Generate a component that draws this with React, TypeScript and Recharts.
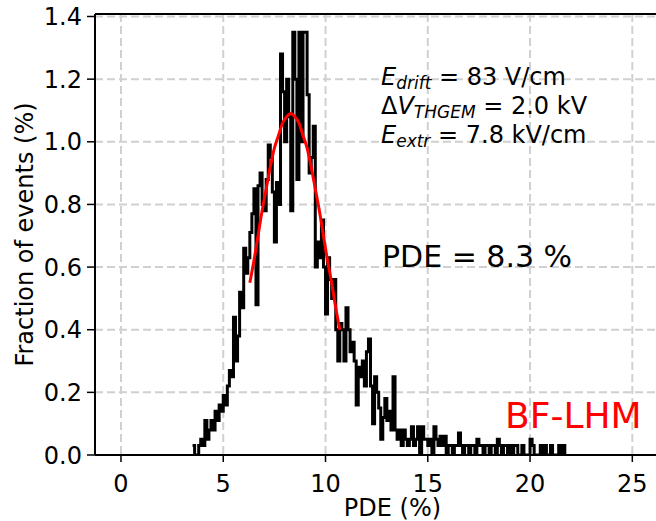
import { ComposedChart, Line, XAxis, YAxis, CartesianGrid, ReferenceLine } from 'recharts'

// histogram bins: left edges start at BIN_START, width BIN_WIDTH
const BIN_START = 3.5
const BIN_WIDTH = 0.1
const HIST_VALUES = [
  0.03, 0.0, 0.0, 0.03, 0.05,
  0.03, 0.11, 0.05, 0.08, 0.11, 0.08, 0.14, 0.11, 0.16, 0.14,
  0.19, 0.16, 0.22, 0.27, 0.25, 0.44, 0.3, 0.38, 0.52, 0.47,
  0.66, 0.58, 0.63, 0.71, 0.77, 0.85, 0.48, 0.86, 0.9, 0.8,
  0.78, 0.88, 0.99, 0.95, 0.84, 0.68, 0.87, 0.8, 1.28, 1.16,
  1.0, 1.2, 1.08, 0.78, 1.35, 1.2, 0.88, 1.35, 1.0, 1.35,
  1.35, 1.15, 0.9, 0.95, 1.05, 0.6, 0.68, 0.63, 0.75, 0.6,
  0.45, 0.63, 0.56, 0.5, 0.56, 0.4, 0.3, 0.42, 0.4, 0.3,
  0.47, 0.4, 0.33, 0.36, 0.3, 0.16, 0.28, 0.25, 0.3, 0.22,
  0.33, 0.37, 0.22, 0.1, 0.25, 0.2, 0.15, 0.05, 0.12, 0.18,
  0.11, 0.14, 0.08, 0.25, 0.08, 0.05, 0.08, 0.03, 0.08, 0.05,
  0.03, 0.05, 0.09, 0.03, 0.05, 0.09, 0.0, 0.09, 0.05, 0.05,
  0.03, 0.05, 0.0, 0.09, 0.05, 0.03, 0.06, 0.03, 0.06, 0.0,
  0.03, 0.03, 0.0, 0.03, 0.03, 0.07, 0.03, 0.0, 0.03, 0.03,
  0.0, 0.03, 0.03, 0.0, 0.05, 0.03, 0.03, 0.0, 0.03, 0.03,
  0.0, 0.03, 0.03, 0.0, 0.05, 0.03, 0.0, 0.03, 0.03, 0.0,
  0.03, 0.0, 0.03, 0.03, 0.0, 0.0, 0.03, 0.0, 0.0, 0.0,
  0.05, 0.03, 0.0, 0.0, 0.0, 0.03, 0.0, 0.03, 0.0, 0.0,
  0.03, 0.0, 0.0, 0.0, 0.03, 0.0, 0.03,
]

// gaussian fit
const FIT_START = 6.3
const FIT_STEP = 0.2
const FIT_VALUES = [
  0.55, 0.62, 0.7, 0.78, 0.85, 0.92, 0.98, 1.02, 1.06, 1.08, 1.09,
  1.08, 1.06, 1.02, 0.98, 0.92, 0.85, 0.78, 0.7, 0.62, 0.55, 0.47, 0.4,
]

const X_TICKS = [0, 5, 10, 15, 20, 25]
const Y_TICKS = [0, 0.2, 0.4, 0.6, 0.8, 1.0, 1.2, 1.4]
const X_DOMAIN = [-1.27, 27.82]
const Y_MAX = 1.408

const key = (x: number) => Math.round(x * 10)

const rows = new Map<number, { x: number; hist?: number; fit?: number }>()
for (let i = 0; i <= HIST_VALUES.length; i++) {
  const x = key(BIN_START + i * BIN_WIDTH) / 10
  rows.set(key(x), { x, hist: i < HIST_VALUES.length ? HIST_VALUES[i] : 0 })
}
FIT_VALUES.forEach((v, j) => {
  const x = key(FIT_START + j * FIT_STEP) / 10
  const row = rows.get(key(x))
  if (row) row.fit = v
  else rows.set(key(x), { x, fit: v })
})
const data = Array.from(rows.values()).sort((a, b) => a.x - b.x)

const font = 'DejaVu Sans'

export default function App() {
  return (
    <div style={{ position: 'absolute', left: 0, top: 0, width: 656, height: 521, overflow: 'hidden', background: '#fff', fontFamily: font }}>
      <ComposedChart width={700} height={521} data={data} margin={{ top: 14, right: 10, bottom: 0, left: 0 }}>
        <CartesianGrid stroke="#d0d0d0" strokeWidth={2} strokeDasharray="8 4" />
        <XAxis
          type="number"
          dataKey="x"
          domain={X_DOMAIN}
          ticks={X_TICKS}
          allowDataOverflow
          height={66}
          tickSize={7}
          tickMargin={13}
          tick={{ fill: '#000', fontSize: 24 }}
          axisLine={{ stroke: '#000', strokeWidth: 2 }}
          tickLine={{ stroke: '#000', strokeWidth: 1.5 }}
          label={{ value: 'PDE (%)', position: 'insideBottom', offset: 5, fill: '#000', fontSize: 24 }}
        />
        <YAxis
          type="number"
          domain={[0, Y_MAX]}
          ticks={Y_TICKS}
          allowDataOverflow
          width={95}
          tickSize={8}
          tickMargin={5}
          tickFormatter={(v) => v.toFixed(1)}
          tick={{ fill: '#000', fontSize: 24 }}
          axisLine={{ stroke: '#000', strokeWidth: 2 }}
          tickLine={{ stroke: '#000', strokeWidth: 1.5 }}
          label={{
            value: 'Fraction of events (%)',
            angle: -90,
            position: 'insideLeft',
            dx: 19,
            fill: '#000',
            fontSize: 24,
            style: { textAnchor: 'middle' },
          }}
        />
        <ReferenceLine y={Y_MAX} stroke="#000" strokeWidth={2} />
        <Line
          dataKey="hist"
          type="stepAfter"
          stroke="#000"
          strokeWidth={3}
          dot={false}
          activeDot={false}
          isAnimationActive={false}
        />
        <Line
          dataKey="fit"
          type="monotone"
          stroke="#ff0000"
          strokeWidth={3}
          dot={false}
          activeDot={false}
          connectNulls
          isAnimationActive={false}
        />
      </ComposedChart>
      <svg width={656} height={521} style={{ position: 'absolute', left: 0, top: 0, pointerEvents: 'none' }}>
        <g fontFamily={font} fill="#000" style={{ whiteSpace: 'pre' }}>
          <text x={381} y={85} fontSize={24}>
            <tspan fontStyle="italic">E</tspan>
            <tspan fontStyle="italic" fontSize={17} dy={4}>drift</tspan>
            <tspan dy={-4}>{' = 83 V/cm'}</tspan>
          </text>
          <text x={381} y={114} fontSize={24}>
            <tspan>Δ</tspan>
            <tspan fontStyle="italic">V</tspan>
            <tspan fontStyle="italic" fontSize={17} dy={4}>THGEM</tspan>
            <tspan dy={-4}>{' = 2.0 kV'}</tspan>
          </text>
          <text x={381} y={143} fontSize={24}>
            <tspan fontStyle="italic">E</tspan>
            <tspan fontStyle="italic" fontSize={17} dy={4}>extr</tspan>
            <tspan dy={-4}>{' = 7.8 kV/cm'}</tspan>
          </text>
          <text x={382} y={267} fontSize={30}>PDE = 8.3 %</text>
          <text x={505} y={428} fontSize={36} fill="#ff0000">BF-LHM</text>
        </g>
      </svg>
    </div>
  )
}
